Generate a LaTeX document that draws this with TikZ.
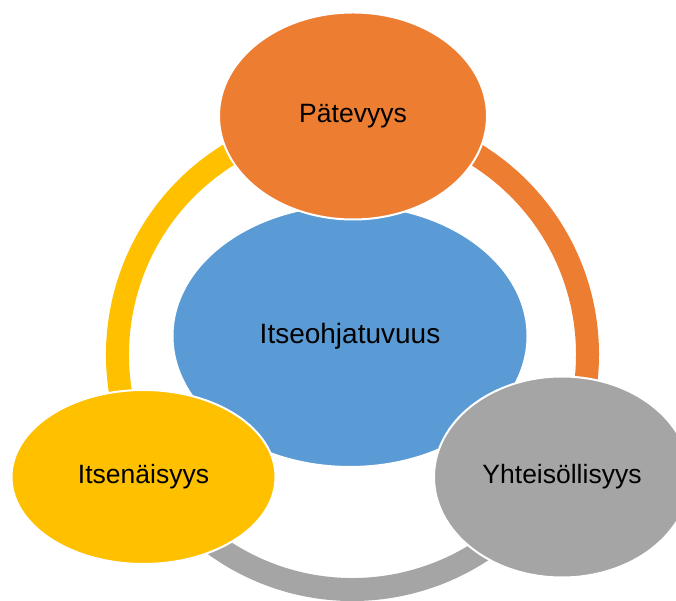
\documentclass[tikz,border=0pt]{standalone}
\usepackage{fontspec}
\setmainfont{Liberation Sans}
\usetikzlibrary{shapes.geometric}
\definecolor{orangec}{HTML}{ED7D31}
\definecolor{bluec}{HTML}{5B9BD5}
\definecolor{grayc}{HTML}{A5A5A5}
\definecolor{yellowc}{HTML}{FFC000}
\tikzset{
  ringarc/.style={line width=23pt},
  bubble/.style={ellipse, draw=white, line width=2pt, inner sep=0pt, text=black,
    font=\fontsize{26.5}{32}\selectfont},
}
\begin{document}
\begin{tikzpicture}[x=1pt,y=1pt]
\useasboundingbox (0,0) rectangle (676,601);
\clip (0,0) rectangle (676,601);
\coordinate (c) at (352.5,246.5);
\draw[ringarc, orangec] ([shift={(90:235pt)}]c) arc[start angle=90, end angle=-30, radius=235pt];
\draw[ringarc, grayc] ([shift={(-30:235pt)}]c) arc[start angle=-30, end angle=-150, radius=235pt];
\draw[ringarc, yellowc] ([shift={(-150:235pt)}]c) arc[start angle=-150, end angle=-270, radius=235pt];
\node[bubble, fill=bluec, minimum width=355pt, minimum height=262pt,
  font=\fontsize{28}{34}\selectfont] (center) at (350,265) {Itseohjatuvuus};
\node[bubble, fill=orangec, minimum width=268pt, minimum height=207pt] (top) at (353,485) {Pätevyys};
\node[bubble, fill=grayc, minimum width=256pt, minimum height=201pt] (right) at (562,124) {Yhteisöllisyys};
\node[bubble, fill=yellowc, minimum width=264pt, minimum height=174pt] (left) at (143.5,124) {Itsenäisyys};
\end{tikzpicture}
\end{document}
